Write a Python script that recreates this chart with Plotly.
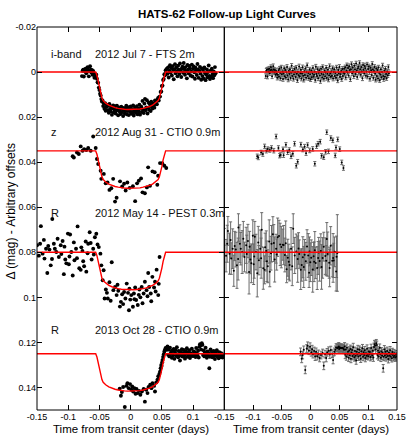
import numpy as np
import plotly.graph_objects as go

# ---------------- data (time in milli-days, magnitudes in mmag) ----------------
band_names = ["i-band", "z", "R", "R"]
band_dates = ["2012 Jul 7 - FTS 2m", "2012 Aug 31 - CTIO 0.9m",
              "2012 May 14 - PEST 0.3m", "2013 Oct 28 - CTIO 0.9m"]
band_offsets = [0.0, 0.035, 0.08, 0.125]

# transit model shape (mmag)
model_t = [-150, -56, -54, -52, -50, -48, -46, -44, -40, -35, -30, -25, -20, -15, -10, -5, 0,
           5, 10, 15, 20, 25, 30, 35, 40, 44, 46, 48, 50, 52, 54, 56, 150]
model_dm = [0, 0, 1.5, 4.0, 7.0, 9.5, 11.5, 12.7, 13.8, 14.7, 15.3, 15.8, 16.1, 16.4, 16.5, 16.6, 16.6,
            16.6, 16.5, 16.4, 16.1, 15.8, 15.3, 14.7, 13.8, 12.7, 11.5, 9.5, 7.0, 4.0, 1.5, 0, 0]

# i-band, FTS 2m
i_t = [-78, -77, -76, -75, -74, -73, -72, -71, -70, -69, -68, -67, -66, -65, -64, -63, -62, -61, -60, -59, -58,
       -57, -56, -55, -54, -53, -52, -51, -50, -49, -48, -47, -46, -45,
       -44, -43, -42, -41, -40, -39, -38, -37, -36, -35, -34, -33, -32, -31, -30, -29, -28, -27, -26, -25,
       -24, -23, -22, -21, -20, -19, -18, -17, -16, -15, -14, -13, -12, -11, -10, -9, -8, -7, -6, -5,
       -4, -3, -2, -1, 0, 1, 2, 3, 4, 5, 6, 7, 8, 9, 10, 11, 12, 13, 14, 15, 16, 17, 18, 19, 20,
       21, 22, 23, 24, 25, 26, 27, 28, 29, 30, 31, 32, 33, 34, 35, 36, 37, 38, 39, 40, 41, 42, 43, 44,
       45, 46, 47, 48, 49, 50, 51, 52, 53, 54, 55, 56, 57,
       58, 59, 60, 61, 62, 63, 64, 65, 66, 67, 68, 69, 70, 71, 72, 73, 74, 75, 76, 77, 78, 79, 80,
       81, 82, 83, 84, 85, 86, 87, 88, 89, 90, 91, 92, 93, 94, 95, 96, 97, 98, 99, 100, 101, 102,
       103, 104, 105, 106, 107, 108, 109, 110, 111, 112, 113, 114, 115, 116, 117, 118, 119, 120,
       121, 122, 123, 124, 125, 126, 127, 128, 129, 130, 131, 132, 133, 134, 135, 136]
i_pre_m = [1.8, -0.6, -1.0, 2.0, -1.2, -0.3, -1.5, 0.5, -0.8, -2.2, -1.0, 1.9, -0.4, -2.6, -1.1, 0.2,
           -0.9, 1.2, -0.5, 0.8, 2.5]
i_in_m = [0.8, 1.9, 1.2, 3.0, 4.5, 4.8, 6.9, 8.0, 9.6, 10.4, 12.0, 13.1, 12.6,
          15.1, 14.0, 16.3, 13.8, 17.2, 15.5, 14.6, 16.9, 15.0, 18.1,
          14.2, 16.4, 17.5, 15.3, 19.0, 16.1, 14.8, 17.9, 16.6, 15.2,
          18.4, 17.0, 14.9, 16.8, 19.2, 15.7, 17.4, 16.2, 18.6, 15.4,
          17.8, 16.5, 19.5, 15.9, 17.1, 18.3, 16.0, 14.9, 18.8, 17.3,
          15.6, 19.1, 16.7, 17.6, 15.3, 18.5, 16.4, 17.9, 14.8, 19.3,
          16.9, 15.8, 18.0, 17.2, 15.1, 18.7, 16.3, 17.5, 14.5, 18.9,
          16.1, 15.4, 17.7, 12.8, 16.6, 18.2, 14.0, 11.9, 17.0, 15.7,
          12.5, 18.4, 15.9, 13.6, 16.8, 14.4, 17.3, 13.2, 15.5, 16.2,
          13.9, 14.7, 15.8, 12.6, 14.1, 13.0, 14.3, 12.2, 11.5,
          12.6, 11.0, 10.9, 8.8, 8.6, 6.2, 6.0, 3.5, 3.1, 1.0, 1.4, -0.8, 0.5]
i_post_m = [-1.5, 0.8, -2.1, 2.4, -0.6, -3.0, 0.2, -1.8, 1.5, -2.6,
            -0.9, 3.2, -1.2, -3.5, 0.5, -2.0, -0.3, 1.9, -2.8, -1.1,
            0.9, -3.8, -0.7, 2.2, -1.6, -2.4, 0.3, -4.0, -1.3, 1.2,
            -2.2, -0.4, 2.8, -3.1, -1.0, 0.6, -2.7, -1.7, 1.6, -0.2,
            -3.3, 2.0, -1.4, -2.5, 0.1, 3.0, -1.9, -0.8, 1.3, -3.6,
            -1.1, 2.6, -0.5, -2.3, 0.7, 3.4, -1.6, 1.8, -0.9, 2.9,
            -2.0, 0.4, 3.6, 1.1, -1.2, 2.3, 0.0, -2.9, 1.7, 3.1,
            -0.6, 2.1, -1.5, 0.9, 2.7, -0.3, 1.4, -2.2, 0.5]
i_in_res = [1.2, -0.8, 2.1, -1.5, 0.4, 2.8, -2.0, 1.0, -0.3, 3.1, 0.6, -1.7, 1.9, -0.9, 2.4, 0.1, -2.3, 1.5, 3.3, -0.5,
            0.9, -1.2, 2.6, 0.3, -2.8, 1.7, -0.6, 3.0, 1.1, -1.4, 0.2, 2.2, -1.9, 0.8, 3.6, -0.1, 1.4, -2.5, 2.0, 0.5,
            -1.0, 2.9, 0.7, -2.1, 1.6, 3.4, -0.4, 1.3, -1.6, 2.5, 0.0, -3.0, 1.8, 0.4, 2.7, -1.1, 1.0, 3.2, -0.7, 2.3,
            0.6, -1.8, 2.0, 1.2, -0.2, 3.5, -2.4, 0.9, 1.7, -1.3, 2.8, 0.3, -0.8, 1.5, 4.0, -1.5, 0.7, 2.4, -2.2, 1.1,
            3.0, -0.6, 1.9, 0.2, -1.9, 2.6, 0.8, -1.0, 3.3, 1.4, -2.6, 0.5, 2.1, -0.3, 1.6, -1.7, 2.9, 0.0, -1.2, 1.8,
            0.4, 2.5, -2.0, 1.3, 3.7, -0.9, 0.6, -2.3, 2.2, 1.0, -0.5, 3.1, -1.4, 1.7, 0.3]
i_err = 1.0

# z, CTIO 0.9m
z_t = [-92.8, -91, -86, -83, -80, -77, -74.5, -71, -68, -64, -60, -56, -54, -52, -48, -47, -43, -40, -37, -34,
       -31, -28, -25, -22.5, -17, -13.6, -10.5, -8, -5.3, -1.6, 3.6, 7.2, 10.3, 13, 16.6, 19, 22.8, 26, 28, 31,
       35, 38.5, 42.7, 44, 47, 50.5, 54, 57]
z_m = [2.4, 2.9, 0.7, 1.4, -2.0, -0.1, -0.8, -0.4, -1.3, -0.1, -6.4, -1.3, 3.6, 5.8, 8.8, 12.4, 10.2, 14.4, 14.0, 17.3,
       16.6, 12.4, 22.5, 20.8, 13.5, 15.8, 14.6, 17.6, 14.0, 16.4, 15.7, 22.3, 14.4, 13.2, 12.2, 18.4, 18.8, 16.2, 7.3, 15.5,
       9.1, 9.5, 15.0, 11.0, 5.4, 5.5, 6.6, 7.6]
z_res = [2.4, 2.9, 0.7, 1.4, -2.0, -0.1, -0.8, -0.4, -1.3, -0.1, -6.4, -1.3, 2.1, 1.8, -0.7, 1.9, -2.7, 0.6, -0.4, 2.4,
         1.3, -3.2, 6.6, 4.8, -2.8, -0.6, -1.9, 1.0, -2.6, -0.2, -0.9, 5.7, -2.1, -3.2, -4.1, 2.2, 2.8, 0.4, -8.3, 0.2,
         -5.7, -4.7, 2.0, -1.5, -5.1, -0.8, 5.1, 7.6]
z_err = 1.0

# R, PEST 0.3m
pest_t = [-150, -145, -143.8, -141, -138, -135.5, -133.5, -130, -128, -125.5,
          -123, -121.4, -119, -115, -112, -109, -107, -104.7, -103, -100.5,
          -99, -97, -95, -92.8, -90, -87.5, -85, -82.3, -80, -77.2,
          -74.5, -72, -71, -68, -65.6, -62.5, -60, -57.3, -55, -51,
          -48.4, -46.9, -44.8, -43.3, -41.7, -39.7, -36.6, -34, -30.3, -27.7,
          -25, -22.5, -19.8, -17.2, -15.6, -13.6, -10.5, -8.4, -6.3, -4.2,
          -2.7, -0.6, 1, 3.6, 5.2, 7.2, 8.8, 11.4, 14, 15.6,
          17.7, 20.8, 22.8, 25.5, 28.1, 29.7, 32.2, 34.8, 37.5, 39,
          41.6, 44.2, 46.3,
          -147, -139, -132, -126, -117, -111, -106, -98, -91, -86, -79, -76, -69, -64, -59, -53,
          -38, -32, -21, -12, -2, 6, 13, 19, 27, 33, 40, 45]
pest_m = [-3.1, -3.8, -11.6, 0.6, 2.8, -1.6, 9.2, -1.2, 5.8, -14.8,
          -3.8, -1.6, -0.1, 2.1, -3.1, -5.0, 9.7, 3.2, 4.9, -8.3,
          5.3, -7.9, -0.1, 10.3, 3.5, -1.6, -11.5, 7.1, 7.8, -0.6,
          6.2, -4.8, 8.6, -3.8, -8.9, 3.2, -1.6, -6.7, -8.2, -2.3,
          0.6, 5.8, 12.4, 8.0, 20.5, 16.5, 20.5, 13.3, 4.4, 16.8,
          15.4, 19.0, 17.1, 24.1, 22.0, 18.6, 17.6, 20.5, 13.9, 18.0,
          25.7, 21.0, 19.0, 24.2, 18.3, 15.6, 21.2, 23.4, 16.5, 20.0,
          15.4, 18.3, 13.1, 16.8, 9.2, 15.4, 18.3, 10.9, 15.6, 13.1,
          7.7, 19.0, 2.1,
          1.5, -5.5, -2.8, 3.0, -6.0, 0.8, -2.5, 1.9, -4.4, 2.6, -2.2, 4.0, 0.4, -4.1, 1.0, -3.5,
          18.0, 21.5, 14.4, 23.0, 16.2, 20.8, 18.9, 22.6, 19.5, 21.7, 17.4, 14.0]
pest_res = [-3.1, -3.8, -9.5, 0.6, 2.8, -1.6, 8.2, -1.2, 5.8, -11.0,
            -3.8, -1.6, -0.1, 2.1, -3.1, -5.0, 8.7, 3.2, 4.9, -7.3,
            5.3, -6.9, -0.1, 9.3, 3.5, -1.6, -10.0, 7.1, 7.8, -0.6,
            6.2, -4.8, 8.6, -3.8, -8.0, 3.2, -1.6, -6.7, -7.2, -2.3,
            -3.4, -3.2, 1.2, -4.0, 7.5, 2.4, 5.6, -1.6, -10.5, 1.4,
            -0.4, 3.0, 0.8, 7.7, 5.6, 2.2, 1.1, 4.0, -2.6, 1.4,
            9.1, 4.4, 2.4, 7.6, 1.8, -0.9, 4.7, 7.0, 0.1, 3.9,
            -0.6, 2.5, -2.5, 1.7, -5.9, 0.8, 4.6, -2.9, 3.8, 2.5,
            -0.2, 8.5, 0.3,
            1.5, -5.5, -2.8, 3.0, -6.0, 0.8, -2.5, 1.9, -4.4, 2.6, -2.2, 4.0, 0.4, -4.1, 1.0, -3.5,
            4.2, 6.2, -1.7, 6.5, -0.4, 4.2, 2.5, 6.5, 3.7, 7.0, 3.6, 2.0]
pest_err = [7.5, 8.2, 6.4, 9.1, 7.0, 8.8, 6.9, 7.7, 10.2, 6.1,
            8.4, 7.2, 9.5, 6.6, 8.0, 7.4, 9.8, 6.3, 8.6, 7.1,
            9.0, 6.8, 7.9, 10.5, 6.5, 8.3, 7.6, 9.3, 6.2, 8.9,
            7.3, 9.6, 6.7, 8.1, 7.8, 10.0, 6.4, 8.5, 7.0, 9.2,
            6.9, 8.7, 7.5, 9.9, 6.0, 8.2, 7.1, 9.4, 6.6, 8.0,
            7.7, 10.3, 6.3, 8.8, 7.2, 9.1, 6.8, 8.4, 7.4, 9.7,
            6.5, 8.6, 7.9, 10.1, 6.2, 8.3, 7.0, 9.5, 6.7, 8.9,
            7.6, 9.0, 6.4, 8.1, 7.3, 9.8, 6.9, 8.5, 7.1, 10.8,
            6.6, 8.7, 17.0,
            7.2, 8.0, 6.5, 9.3, 7.7, 8.4, 6.8, 9.6, 7.1, 8.9, 6.3, 9.0, 7.5, 8.2, 6.9, 9.4,
            7.8, 8.6, 7.0, 9.1, 6.4, 8.8, 7.3, 9.9, 6.7, 8.3, 7.6, 9.2]

# R, CTIO 0.9m
ctio_in_t = [-15.6, -9.4, -12, -6.8, -5.2, -3, -1, 1, 2.5, 4, 6, 7.8, 9.4, 11.4, 13.4, 15.6, 18, 20.8, 22.8, 25,
             27, 28.6, 31.3, 33.3, 35, 37.5, 39, 41, 44.2, 47, 48, 49, 50.5, 52, 54, 56, 58,
             -17.5, -14, 43, 46, 49.5, 51, 53, 55, 57]
ctio_in_m = [18.7, 23.7, 14.8, 14.3, 13.1, 15.3, 13.5, 16.0, 14.6, 16.8, 15.3, 17.8, 15.7, 17.5, 16.5, 18.2, 16.8, 15.7, 21.3, 16.0,
             17.5, 14.8, 13.8, 15.3, 13.1, 14.3, 16.8, 12.8, 10.0, 8.0, 6.5, 5.0, 3.8, 1.5, -1.0, -2.5, -1.7,
             15.5, 17.0, 11.5, 9.0, 5.5, 2.8, 0.2, -1.8, -2.2]
ctio_in_res = [2.3, 7.2, -1.7, -2.3, -3.5, -1.3, -3.1, -0.6, -2.0, 0.2, -1.2, 1.3, -0.8, 1.1, 0.1, 1.9, 0.6, -0.3, 5.4, 0.2,
               1.9, -0.6, -1.3, 0.4, -1.6, 0.0, 2.8, -0.8, -2.7, -2.5, -3.0, -3.2, -2.5, -2.5, -2.5, -2.5, -1.7,
               -0.8, 0.6, -1.7, -2.5, -2.1, -2.7, -2.5, -2.5, -2.2]
ctio_post_t = [59, 60, 61, 62, 63, 64, 65, 66, 67, 68, 69, 70, 71, 72, 73, 74, 75, 76, 77, 78, 79, 80,
               81, 82, 83, 84, 85, 86, 87, 88, 89, 90, 91, 92, 93, 94, 95, 96, 97, 98, 99, 100,
               101, 102, 103, 104, 105, 106, 107, 108, 109, 110, 111, 112, 113, 114, 115, 116, 117, 118,
               119, 120, 121, 122, 123, 124, 125, 126, 127, 128, 129, 130, 131, 132, 133, 134, 135, 136,
               137, 138, 139, 140, 141, 142, 143, 144, 145, 146, 147, 148, 149]
ctio_post_m = [-3.2, 0.5, -1.8, 1.2, -2.6, 0.0, -0.9, 1.8, -1.4, 0.7,
               -2.1, 2.3, -0.5, -1.6, 1.0, -2.9, 0.3, 1.6, -1.2, 0.9,
               3.0, -0.8, 0.4, -2.0, 1.3, -0.3, -1.7, 0.8, 2.2, -1.1,
               0.1, -2.4, 1.4, -0.6, 0.6, -1.5, 1.9, -0.2, 0.9, -2.2,
               0.4, 1.1, -1.0, 0.2, -0.7, 1.5, -2.5, 0.0, 0.8, -1.3,
               1.7, -3.0, -4.2, -3.6, -1.8, -4.6, -3.9, 0.6, -1.4, 1.2,
               -0.5, -2.6, 0.3, 1.8, -1.0, 0.9, -0.3, 6.5, 1.4, -1.9,
               0.7, -0.8, 1.6, 0.2, -1.2, 1.0, 2.4, -0.4, 0.8, -1.5,
               1.3, 0.1, 2.0, -0.7, 0.6, 1.5, -0.2, 0.9, 1.7, 0.3, 1.2]
ctio_err = 1.7

# axis ticks
x_tickvals = [-0.15, -0.1, -0.05, 0, 0.05, 0.1, 0.15]
x_ticktext = ["-0.15", "-0.1", "-0.05", "0", "0.05", "0.1", "0.15"]
y_tickvals = [-0.02, 0, 0.02, 0.04, 0.06, 0.08, 0.1, 0.12, 0.14]
y_ticktext = ["-0.02", "0", "0.02", "0.04", "0.06", "0.08", "0.1", "0.12", "0.14"]

# ---------------- assemble ----------------
MD = 1e-3  # milli-days / mmag -> days / mag
sets = [
    (i_t, i_pre_m + i_in_m + i_post_m, i_pre_m + i_in_res + i_post_m, [i_err]),
    (z_t, z_m, z_res, [z_err]),
    (pest_t, pest_m, pest_res, pest_err),
    (ctio_in_t + ctio_post_t, ctio_in_m + ctio_post_m, ctio_in_res + ctio_post_m, [ctio_err]),
]

FONT = "Liberation Sans, Arial, Helvetica, sans-serif"
RED = "#ff0000"
fig = go.Figure()

for k, (t, m, r, e) in enumerate(sets):
    n = min(len(t), len(m), len(r))
    tt = np.array(t[:n]) * MD
    off = band_offsets[k]
    fig.add_trace(go.Scatter(x=tt, y=off + np.array(m[:n]) * MD, mode="markers",
                             marker=dict(size=3.9, color="black"), xaxis="x", yaxis="y",
                             hoverinfo="skip"))
    err = np.array(e if len(e) > 1 else e * n)[:n] * MD
    fig.add_trace(go.Scatter(x=tt, y=off + np.array(r[:n]) * MD, mode="markers",
                             marker=dict(size=2.0, color="black"),
                             error_y=dict(type="data", array=err, symmetric=True,
                                          color="#6a6a6a", thickness=1, width=1.5),
                             xaxis="x2", yaxis="y2", hoverinfo="skip"))

for k in range(4):
    off = band_offsets[k]
    fig.add_trace(go.Scatter(x=np.array(model_t) * MD, y=off + np.array(model_dm) * MD,
                             mode="lines", line=dict(color=RED, width=1.4),
                             xaxis="x", yaxis="y", hoverinfo="skip"))
    fig.add_shape(type="line", xref="x2 domain", yref="y2", x0=0, x1=1, y0=off, y1=off,
                  line=dict(color=RED, width=1.4), layer="above")

# panel frames (single shared divider line)
for xr, yr in (("x domain", "y domain"), ("x2 domain", "y2 domain")):
    fig.add_shape(type="rect", xref=xr, yref=yr, x0=0, x1=1, y0=0, y1=1,
                  line=dict(color="black", width=1), fillcolor="rgba(0,0,0,0)", layer="above")

split = 0.5203
x_common = dict(range=[-0.15, 0.15], tickvals=x_tickvals, ticks="inside", ticklen=5,
                tickwidth=1, tickcolor="black", showline=False,
                mirror="ticks", showgrid=False, zeroline=False,
                tickfont=dict(size=9, color="black", family=FONT))
y_common = dict(range=[0.15, -0.02], tickvals=y_tickvals, ticks="inside", ticklen=5,
                tickwidth=1, tickcolor="black", showline=False,
                mirror="ticks", showgrid=False, zeroline=False,
                tickfont=dict(size=9, color="black", family=FONT))

fig.update_layout(
    width=415, height=436,
    margin=dict(l=37, r=9, t=27, b=26),
    paper_bgcolor="white", plot_bgcolor="white",
    showlegend=False,
    hovermode=False,
    font=dict(family=FONT, color="black"),
    xaxis=dict(domain=[0, split], anchor="y", ticktext=x_ticktext[:-1] + [""], **x_common),
    yaxis=dict(domain=[0, 1], anchor="x", ticktext=y_ticktext, **y_common),
    xaxis2=dict(domain=[split, 1], anchor="y2", ticktext=x_ticktext, **x_common),
    yaxis2=dict(domain=[0, 1], anchor="x2", ticktext=y_ticktext, showticklabels=False, **y_common),
    title=dict(text="HATS-62 Follow-up Light Curves", x=0.547, xanchor="center",
               y=0.968, yanchor="middle", yref="container",
               font=dict(size=11.5, family=FONT, color="black", weight="bold")),
)

annots = []
label_y = [-0.0078, 0.0264, 0.0625, 0.1145]
for k in range(4):
    annots.append(dict(x=-0.1303, y=label_y[k], xref="x", yref="y", text=band_names[k],
                       showarrow=False, xanchor="left", yanchor="middle",
                       font=dict(size=11, color="#111")))
    annots.append(dict(x=-0.0602, y=label_y[k], xref="x", yref="y", text=band_dates[k],
                       showarrow=False, xanchor="left", yanchor="middle",
                       font=dict(size=11, color="#111")))
annots.append(dict(x=split / 2, y=-0.05, xref="paper", yref="paper",
                   text="Time from transit center (days)", showarrow=False,
                   xanchor="center", yanchor="middle", font=dict(size=11.5)))
annots.append(dict(x=(split + 1) / 2, y=-0.05, xref="paper", yref="paper",
                   text="Time from transit center (days)", showarrow=False,
                   xanchor="center", yanchor="middle", font=dict(size=11.5)))
annots.append(dict(x=-0.073, y=0.52, xref="paper", yref="paper",
                   text="Δ (mag) - Arbitrary offsets", textangle=-90, showarrow=False,
                   xanchor="center", yanchor="middle", font=dict(size=12)))
fig.update_layout(annotations=annots)

fig.write_html("out.html", config={"displayModeBar": False},
               post_script="document.body.style.margin='0';document.body.style.overflow='hidden';")
